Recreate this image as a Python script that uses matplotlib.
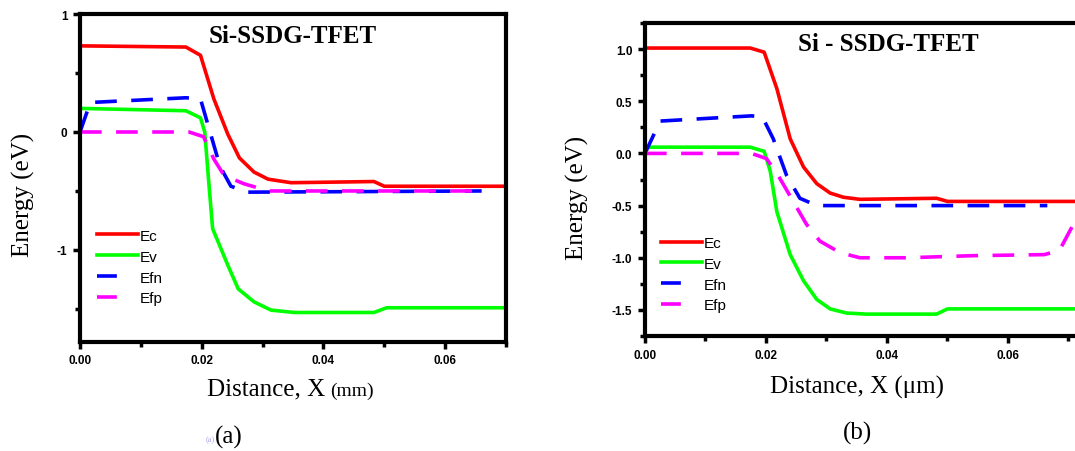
#!/usr/bin/env python

#import libs
import matplotlib
matplotlib.use("Agg")
import matplotlib.pyplot as plt
from matplotlib.lines import Line2D
from matplotlib.ticker import MultipleLocator, FormatStrFormatter

plt.rcParams['axes.unicode_minus'] = False

#band data
xa_ec = [0, 0.0174, 0.0198, 0.022, 0.0243, 0.0262, 0.0286, 0.0309, 0.0347, 0.0483, 0.050, 0.07]
ya_ec = [0.73, 0.72, 0.65, 0.28, -0.02, -0.22, -0.34, -0.40, -0.43, -0.42, -0.46, -0.46]
xa_ev = [0, 0.0174, 0.0198, 0.0205, 0.0212, 0.0218, 0.0243, 0.026, 0.0286, 0.0314, 0.0352, 0.0483, 0.0504, 0.07]
ya_ev = [0.20, 0.18, 0.12, 0.0, -0.45, -0.82, -1.13, -1.33, -1.44, -1.51, -1.53, -1.53, -1.49, -1.49]
xa_efn = [0, 0.0017, 0.0174, 0.0198, 0.0212, 0.023, 0.0248, 0.0276, 0.066]
ya_efn = [0.0, 0.25, 0.29, 0.28, 0.03, -0.29, -0.46, -0.51, -0.50]
xa_efp = [0, 0.0179, 0.0203, 0.022, 0.0237, 0.027, 0.031, 0.066]
ya_efp = [0.0, 0.0, -0.04, -0.23, -0.37, -0.44, -0.50, -0.50]

#band data
xb_ec = [0, 0.0174, 0.0197, 0.0218, 0.024, 0.0262, 0.0284, 0.0306, 0.0328, 0.0355, 0.0482, 0.050, 0.072]
yb_ec = [1.01, 1.01, 0.97, 0.62, 0.14, -0.13, -0.29, -0.38, -0.42, -0.44, -0.43, -0.46, -0.46]
xb_ev = [0, 0.0174, 0.0197, 0.0207, 0.0218, 0.024, 0.0262, 0.0284, 0.0306, 0.0333, 0.0366, 0.0482, 0.050, 0.072]
yb_ev = [0.06, 0.06, 0.02, -0.17, -0.56, -0.97, -1.22, -1.40, -1.49, -1.53, -1.54, -1.54, -1.49, -1.49]
xb_efn = [0, 0.0025, 0.0176, 0.0194, 0.0212, 0.0234, 0.0256, 0.0284, 0.0665]
yb_efn = [0.0, 0.31, 0.36, 0.35, 0.14, -0.21, -0.43, -0.50, -0.50]
xb_efp = [0, 0.0176, 0.0201, 0.0223, 0.0245, 0.0267, 0.0289, 0.0322, 0.0355, 0.0433, 0.0542, 0.066, 0.0685, 0.072]
yb_efp = [0.0, 0.0, -0.05, -0.24, -0.46, -0.68, -0.84, -0.95, -1.00, -1.00, -0.98, -0.97, -0.93, -0.55]

labels = ["Ec", "Ev", "Efn", "Efp"]
colors = ["#ff0000", "#00ff00", "#0000ff", "#ff00ff"]

fig = plt.figure(figsize=(10.75, 4.52), dpi=100)
ax_a = fig.add_axes([0.0744, 0.2412, 0.3963, 0.7256])
ax_b = fig.add_axes([0.6, 0.2544, 0.4052, 0.6925])


def draw_panel(ax, data, ylim, ymajor, yminor, yfmt, title, title_x, leg_xy):
    """draws the four band lines and styles the axes like the origin plot"""
    handles = []
    for (x, y), lab, col in zip(data, labels, colors):
        if lab in ("Efn", "Efp"):
            ax.plot(x, y, color=col, lw=2.6, dashes=(6, 4))
            #legend shows a single short dash, origin style
            handles.append(Line2D([], [], color=col, lw=2.6, dashes=(5.5, 8), label=lab))
        else:
            ax.plot(x, y, color=col, lw=2.6)
            handles.append(Line2D([], [], color=col, lw=2.6, label=lab))
    ax.set_xlim(0, max(data[0][0]))
    ax.set_ylim(*ylim)
    ax.xaxis.set_major_locator(MultipleLocator(0.02))
    ax.xaxis.set_minor_locator(MultipleLocator(0.01))
    ax.yaxis.set_major_locator(MultipleLocator(ymajor))
    ax.yaxis.set_minor_locator(MultipleLocator(yminor))
    ax.xaxis.set_major_formatter(FormatStrFormatter('%.2f'))
    ax.yaxis.set_major_formatter(FormatStrFormatter(yfmt))
    for s in ax.spines.values():
        s.set_linewidth(3)
    ax.tick_params(which='both', direction='out', width=2.5, top=False, right=False)
    ax.tick_params(which='major', length=5, pad=4)
    ax.tick_params(which='minor', length=3.5)
    for t in ax.get_xticklabels() + ax.get_yticklabels():
        t.set_fontfamily('Liberation Sans')
        t.set_fontweight('bold')
        t.set_fontsize(8.5)
    ax.text(title_x, 0.935, title, transform=ax.transAxes, ha='center', va='center',
            fontsize=18, fontweight='bold', family='Liberation Serif')
    ax.legend(handles=handles, loc='upper left', bbox_to_anchor=leg_xy, frameon=False,
              borderpad=0, borderaxespad=0, handlelength=2.7, handletextpad=0.1,
              labelspacing=0.45, prop={'family': 'Liberation Sans', 'size': 11})


draw_panel(ax_a, [(xa_ec, ya_ec), (xa_ev, ya_ev), (xa_efn, ya_efn), (xa_efp, ya_efp)],
           (-1.78, 1.0), 1.0, 0.5, '%g', "Si-SSDG-TFET", 0.50, (0.04, 0.345))
draw_panel(ax_b, [(xb_ec, yb_ec), (xb_ev, yb_ev), (xb_efn, yb_efn), (xb_efp, yb_efp)],
           (-1.75, 1.25), 0.5, 0.25, '%.1f', "Si - SSDG-TFET", 0.559, (0.037, 0.32))

#axis labels, placed by hand like the original figure
fig.text(325 / 1075, 0.124, "Distance, X", ha='right', va='baseline',
         fontsize=18, family='Liberation Serif')
fig.text(330 / 1075, 0.124, "(mm)", ha='left', va='baseline',
         fontsize=14, family='Liberation Serif')
fig.text(857 / 1075, 0.130, "Distance, X (\u03bcm)", ha='center', va='baseline',
         fontsize=18, family='Liberation Serif')
fig.text(23 / 1075, 1 - 195 / 452, "Energy (eV)", rotation=90, ha='center', va='center',
         fontsize=18, family='Liberation Serif')
fig.text(577 / 1075, 1 - 198 / 452, "Energy (eV)", rotation=90, ha='center', va='center',
         fontsize=18, family='Liberation Serif')

#panel letters
fig.text(210 / 1075, 1 - 440 / 452, "(a)", ha='center', va='center',
         fontsize=6, color='#a8a8e8', family='Liberation Serif')
fig.text(229 / 1075, 1 - 437 / 452, "(a)", ha='center', va='center',
         fontsize=18, family='Liberation Serif')
fig.text(857 / 1075, 1 - 433 / 452, "(b)", ha='center', va='center',
         fontsize=18, family='Liberation Serif')

plt.savefig("out.png", dpi=100)
